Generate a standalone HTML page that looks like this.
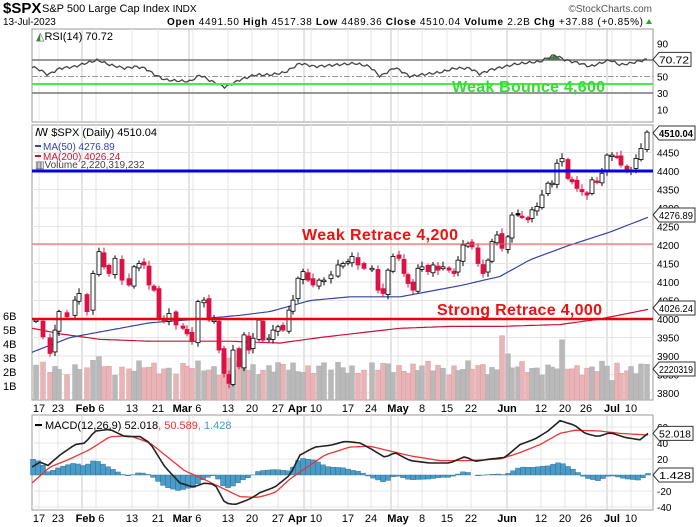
<!DOCTYPE html>
<html><head><meta charset="utf-8"><style>
html,body{margin:0;padding:0;background:#fff;}
svg{display:block;font-family:"Liberation Sans",sans-serif;}
</style></head><body>
<svg id="s" width="696" height="527" viewBox="0 0 696 527" xmlns="http://www.w3.org/2000/svg"></svg>
<script>
var S=document.getElementById('s');var out='';
function add(t){out+=t;}
function lin(pts,x){if(x<=pts[0][0])return pts[0][1];for(var i=1;i<pts.length;i++){if(x<=pts[i][0]){var a=pts[i-1],b=pts[i];return a[1]+(b[1]-a[1])*(x-a[0])/(b[0]-a[0]);}}return pts[pts.length-1][1];}
var L=32,R=653;
var PT=125,PB=400,RT=29,RB=122,MT=415,MB=510;
function py(p){return 319-(p-4000)*0.37;}
function ry(v){return 93-(v-30)*0.825;}
function my(v){return 475-v*0.8;}
var dl=[[39,"17"],[58,"23"],[96,"Feb"," 6"],[132,"13"],[158,"21"],[193,"Mar"," 6"],[228,"13"],[252,"20"],[278,"27"],[311,"Apr"," 10"],[348,"17"],[371,"24"],[398,"May"],[422,"8"],[447,"15"],[471,"22"],[507,"Jun"],[541,"12"],[565,"20"],[586,"26"],[612,"Jul"],[631,"10"]];
var months=[82,189,304,391,507,607];
function panel(t,b){add('<rect x="'+L+'" y="'+t+'" width="'+(R-L)+'" height="'+(b-t)+'" fill="#fff" stroke="#999" stroke-width="1"/>');
 dl.forEach(function(d){add('<line x1="'+d[0]+'" x2="'+d[0]+'" y1="'+t+'" y2="'+b+'" stroke="#e4e4e4"/>');});
 months.forEach(function(m){add('<line x1="'+m+'" x2="'+m+'" y1="'+t+'" y2="'+b+'" stroke="#c8c8c8"/>');});}
function axisLabels(y){dl.forEach(function(d){if(d.length==3){add('<text x="'+(d[0]-6)+'" y="'+y+'" font-size="11" text-anchor="middle"><tspan font-weight="bold">'+d[1]+'</tspan>'+d[2]+'</text>');}else{var bold=isNaN(+d[1]);add('<text x="'+d[0]+'" y="'+y+'" font-size="11" text-anchor="middle"'+(bold?' font-weight="bold"':'')+'>'+d[1]+'</text>');}});}
function tag(y,txt,w,bold){add('<path d="M653,'+y+' l6,-7 h'+w+' v14 h-'+w+' z" fill="#fff" stroke="#333"/><text x="659" y="'+(y+4)+'" font-size="10"'+(bold?' font-weight="bold"':'')+' textLength="'+(w-2)+'" lengthAdjust="spacingAndGlyphs">'+txt+'</text>');}
add('<text x="3" y="13" font-size="15" font-weight="bold">$SPX</text><text x="42" y="12" font-size="11">S&amp;P 500 Large Cap Index <tspan font-size="10">INDX</tspan></text>');
add('<text x="652" y="12" font-size="10" fill="#555" text-anchor="end">©StockCharts.com</text>');
add('<text x="3" y="25" font-size="10">13-Jul-2023</text>');
add('<text x="167" y="25" font-size="10" textLength="476" lengthAdjust="spacing"><tspan font-weight="bold">Open</tspan> 4491.50 <tspan font-weight="bold">High</tspan> 4517.38 <tspan font-weight="bold">Low</tspan> 4489.36 <tspan font-weight="bold">Close</tspan> 4510.04 <tspan font-weight="bold">Volume</tspan> 2.2B <tspan font-weight="bold">Chg</tspan> +37.88 (+0.85%)</text><path d="M646,24 l3,-5 l3,5z" fill="#2a2"/>');
panel(RT,RB);
add('<line x1="'+L+'" x2="'+R+'" y1="'+ry(70)+'" y2="'+ry(70)+'" stroke="#777" stroke-width="1.5"/><line x1="'+L+'" x2="'+R+'" y1="'+ry(30)+'" y2="'+ry(30)+'" stroke="#777" stroke-width="1.5"/><line x1="'+L+'" x2="'+R+'" y1="'+ry(50)+'" y2="'+ry(50)+'" stroke="#999" stroke-dasharray="6,2,2,2"/>');
[90,50,30,10].forEach(function(v){add('<text x="657" y="'+(ry(v)+4)+'" font-size="10">'+v+'</text>');});
var rsi=[[32,62],[40,58],[48,52],[60,60],[75,62],[85,66],[98,70],[110,64],[125,60],[135,62],[145,60],[155,52],[165,46],[175,45],[190,44],[200,52],[210,45],[225,37],[240,46],[255,52],[270,52],[285,55],[300,66],[315,62],[335,64],[355,66],[370,62],[380,50],[395,61],[410,50],[420,52],[440,55],[455,60],[470,60],[480,53],[490,58],[505,62],[515,65],[530,67],[540,68],[550,74],[555,76],[565,70],[580,66],[590,62],[600,66],[610,70],[620,64],[630,66],[648,71]];
var d='';for(var x=32;x<=648;x+=2.5){var v=lin(rsi,x)+Math.sin(x*1.7)*1.5;d+=(d?'L':'M')+x.toFixed(1)+','+ry(v).toFixed(1);}
add('<path d="M545,'+ry(70)+' L555,'+ry(76)+' L562,'+ry(70)+'z" fill="#4a7a4a"/>');
add('<path d="'+d+'" fill="none" stroke="#444" stroke-width="1.3"/>');
add('<line x1="'+L+'" x2="'+R+'" y1="84" y2="84" stroke="#44ee44" stroke-width="2"/>');
add('<text x="452" y="92" font-size="16" font-weight="bold" fill="#33dd33" textLength="153">Weak Bounce 4,600</text>');
add('<text x="36" y="40" font-size="11"><tspan fill="#4a7a4a">◭</tspan>RSI(14) 70.72</text>');
tag(ry(70.72),"70.72",32,false);
panel(PT,PB);
for(var p=3800;p<=4450;p+=50){add('<line x1="'+L+'" x2="'+R+'" y1="'+py(p)+'" y2="'+py(p)+'" stroke="#e4e4e4"/>');add('<text x="657" y="'+(py(p)+4)+'" font-size="10">'+p+'</text>');}
var closes=[[36,3997],[43,3952],[50,3907],[55,3970],[59,4020],[67,4006],[75,4051],[79,4069],[87,4020],[93,4123],[99,4182],[104,4141],[109,4123],[115,4164],[122,4105],[129,4092],[134,4141],[139,4150],[144,4146],[149,4092],[154,4078],[159,4002],[164,3997],[169,4015],[176,3984],[183,3975],[187,3960],[192,3939],[198,4047],[204,4051],[209,3997],[214,3997],[219,3916],[224,3853],[229,3826],[233,3916],[239,3871],[244,3957],[249,3916],[253,3948],[259,3997],[263,3943],[269,3948],[273,3970],[278,3979],[283,3970],[289,4024],[293,4051],[298,4110],[303,4128],[308,4105],[313,4092],[319,4105],[324,4105],[331,4119],[338,4146],[343,4150],[348,4155],[352,4169],[358,4146],[364,4137],[372,4137],[378,4078],[383,4069],[388,4132],[393,4169],[399,4164],[404,4123],[408,4096],[413,4078],[418,4137],[422,4141],[428,4128],[433,4146],[438,4132],[443,4141],[449,4132],[454,4123],[458,4159],[463,4200],[468,4204],[472,4195],[478,4150],[483,4123],[488,4159],[492,4209],[497,4227],[502,4191],[508,4222],[512,4281],[518,4281],[522,4277],[528,4268],[532,4295],[537,4304],[542,4335],[548,4367],[552,4367],[557,4421],[562,4434],[568,4380],[572,4371],[577,4353],[582,4344],[587,4335],[592,4376],[597,4371],[602,4394],[607,4443],[612,4443],[617,4437],[621,4416],[627,4403],[631,4403],[636,4434],[641,4461],[647,4505]];
var spikes={224:3.3,502:4.6,562:4.3,99:3.1,612:1.4,229:3.0,508:3.3};
for(var i=0;i<closes.length;i++){var c=closes[i],pc=i?closes[i-1][1]:3990;var vb=spikes[c[0]]||(2.3+0.35*Math.sin(i*2.3)+0.2*Math.cos(i*0.7));var up=c[1]>=pc;add('<rect x="'+(c[0]-2.5)+'" y="'+(400-vb*14)+'" width="5" height="'+(vb*14)+'" fill="'+(up?'#b9b9b9':'#e8b4b8')+'" stroke="'+(up?'#aaa':'#d99')+'" stroke-width="0.4"/>');}
[[6,"6B"],[5,"5B"],[4,"4B"],[3,"3B"],[2,"2B"],[1,"1B"]].forEach(function(v){add('<text x="3" y="'+(400-v[0]*14+4)+'" font-size="11">'+v[1]+'</text>');});
var ma50=[[32,3910],[70,3950],[100,3965],[150,3990],[200,4000],[240,4010],[270,4020],[310,4050],[350,4060],[400,4060],[420,4070],[460,4090],[500,4115],[530,4160],[570,4200],[610,4235],[648,4275]];
var ma200=[[32,3975],[60,3960],[100,3945],[150,3940],[230,3940],[280,3935],[320,3950],[400,3975],[450,3980],[500,3980],[560,3985],[600,4000],[648,4026]];
function pth(arr,f){var s='';for(var x=32;x<=648;x+=4){s+=(s?'L':'M')+x+','+f(lin(arr,x)).toFixed(1);}return s;}
add('<path d="'+pth(ma200,py)+'" fill="none" stroke="#cc1133" stroke-width="1.2"/>');
add('<path d="'+pth(ma50,py)+'" fill="none" stroke="#3344aa" stroke-width="1.2"/>');
for(var i=0;i<closes.length;i++){var c=closes[i],pc=i?closes[i-1][1]:3990;var o=pc+(i%3==0?4:-3),cl=c[1];var hi=Math.max(o,cl)+5+(i%4)*3,lo=Math.min(o,cl)-5-(i%5)*2;var down=cl<pc;var col=down?'#dd1144':'#000';var x=c[0];
add('<line x1="'+x+'" x2="'+x+'" y1="'+py(hi)+'" y2="'+py(lo)+'" stroke="'+col+'"/>');
var t=py(Math.max(o,cl)),h=Math.max(1.5,Math.abs(py(o)-py(cl)));add('<rect x="'+(x-2)+'" y="'+t+'" width="4" height="'+h+'" fill="'+(cl>o?'#fff':col)+'" stroke="'+col+'" stroke-width="0.8"/>');}
add('<line x1="'+L+'" x2="'+R+'" y1="171" y2="171" stroke="#0000ee" stroke-width="3"/>');
add('<line x1="'+L+'" x2="'+R+'" y1="244" y2="244" stroke="#ee5555" stroke-width="1"/>');
add('<line x1="'+L+'" x2="'+R+'" y1="319" y2="319" stroke="#ee0000" stroke-width="2.5"/>');
add('<text x="302" y="240" font-size="16" font-weight="bold" fill="#ee1111" textLength="156">Weak Retrace 4,200</text>');
add('<text x="437" y="315" font-size="16" font-weight="bold" fill="#ee1111" textLength="165">Strong Retrace 4,000</text>');
add('<text x="35" y="136" font-size="11">ꟿ $SPX (Daily) 4510.04</text>');
add('<rect x="35" y="145" width="6" height="2" fill="#3344aa"/><text x="43" y="150" font-size="10" fill="#3344aa">MA(50) 4276.89</text>');
add('<rect x="35" y="155" width="6" height="2" fill="#cc1133"/><text x="43" y="160" font-size="10" fill="#cc1133">MA(200) 4026.24</text>');
add('<text x="35" y="168" font-size="10" fill="#444">▥Volume 2,220,319,232</text>');
tag(133,"4510.04",36,true);tag(215,"4276.89",36,false);tag(308,"4026.24",36,false);tag(369,"2220319",36,false);
axisLabels(412);
panel(MT,MB);
[60,40,20,-20,-40].forEach(function(v){add('<line x1="'+L+'" x2="'+R+'" y1="'+my(v)+'" y2="'+my(v)+'" stroke="#e4e4e4"/><text x="657" y="'+(my(v)+4)+'" font-size="10">'+v+'</text>');});
var macd=[[32,10],[40,16],[48,12],[60,25],[75,38],[85,40],[95,55],[110,57],[125,48],[140,48],[150,40],[165,10],[180,-10],[193,-15],[205,-10],[215,-12],[225,-35],[235,-37],[250,-30],[260,-22],[275,-15],[290,0],[300,25],[315,35],[330,37],[345,42],[360,40],[372,32],[385,22],[395,28],[410,18],[430,15],[450,15],[465,23],[475,17],[490,20],[505,22],[520,38],[535,45],[548,55],[560,68],[575,62],[585,52],[598,48],[610,53],[625,47],[640,44],[648,52]];
var sig=[[32,-10],[50,10],[70,20],[90,32],[110,48],[130,49],[150,40],[170,20],[185,5],[200,-3],[220,-15],[240,-27],[258,-28],[275,-22],[290,-5],[305,8],[325,25],[350,35],[370,36],[390,30],[410,24],[440,18],[470,18],[500,20],[520,28],[540,38],[560,52],[575,56],[600,55],[620,52],[648,50]];
for(var x=33;x<=648;x+=5){var h=lin(macd,x)-lin(sig,x);var y=my(h);add('<rect x="'+(x-2.5)+'" y="'+Math.min(y,475)+'" width="5" height="'+Math.abs(y-475)+'" fill="#4a9cc8" stroke="#2a6a90" stroke-width="0.4"/>');}
add('<path d="'+pth(sig,my)+'" fill="none" stroke="#ee3333" stroke-width="1.3"/>');
add('<path d="'+pth(macd,my)+'" fill="none" stroke="#222" stroke-width="1.6"/>');
add('<rect x="35" y="424" width="7" height="2" fill="#000"/><text x="45" y="429" font-size="11">MACD(12,26,9) 52.018<tspan fill="#ee3333">, 50.589</tspan><tspan fill="#4a9cc8">, 1.428</tspan></text>');
tag(my(52),"52.018",34,false);tag(475,"1.428",34,false);
axisLabels(522);
S.innerHTML=out;
</script>
</body></html>
